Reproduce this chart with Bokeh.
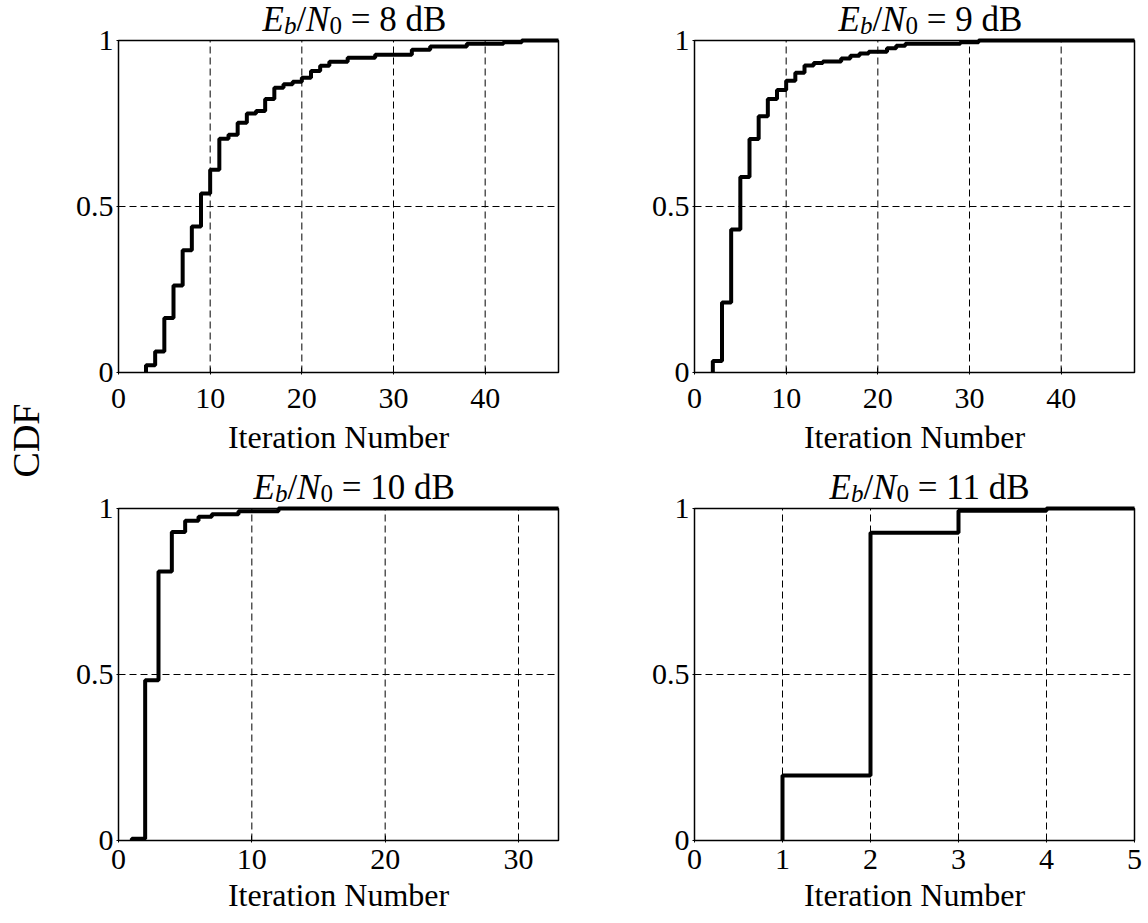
from bokeh.plotting import figure
from bokeh.models import FixedTicker, Label, BoxAnnotation, Range1d
from bokeh.layouts import row, column
from bokeh.embed import file_html
from bokeh.resources import INLINE
import math

FONT = "Liberation Serif"

# ---------------- data ----------------
iter_8db = [3, 4, 5, 6, 7, 8, 9, 10, 11, 12, 13, 14, 15, 16, 17, 18, 19, 20, 21, 22, 23,
            25, 28, 32, 34, 38, 42, 44, 48]
cdf_8db = [0.022, 0.063, 0.164, 0.262, 0.368, 0.440, 0.539, 0.611, 0.704, 0.716, 0.752,
           0.780, 0.788, 0.824, 0.858, 0.868, 0.876, 0.888, 0.908, 0.924, 0.936,
           0.948, 0.957, 0.972, 0.982, 0.990, 0.995, 1.0, 1.0]

iter_9db = [2, 3, 4, 5, 6, 7, 8, 9, 10, 11, 12, 13, 14, 16, 17, 18, 19, 21, 22, 23, 29, 31, 48]
cdf_9db = [0.035, 0.211, 0.431, 0.589, 0.703, 0.772, 0.824, 0.851, 0.879, 0.903, 0.925,
           0.932, 0.937, 0.946, 0.954, 0.961, 0.966, 0.977, 0.984, 0.990, 0.995, 1.0, 1.0]

iter_10db = [1, 2, 3, 4, 5, 6, 7, 9, 12, 33]
cdf_10db = [0.005, 0.483, 0.810, 0.929, 0.963, 0.975, 0.983, 0.992, 1.0, 1.0]

iter_11db = [1, 2, 3, 4, 5]
cdf_11db = [0.196, 0.927, 0.993, 1.0, 1.0]

snr_db = ["8", "9", "10", "11"]
xmax_list = [48, 48, 33, 5]
xticks_list = [[0, 10, 20, 30, 40], [0, 10, 20, 30, 40], [0, 10, 20, 30], [0, 1, 2, 3, 4, 5]]
yticks = [0, 0.5, 1]
ytick_labels = {0: "0", 0.5: "0.5", 1: "1"}
xlabel = "Iteration Number"
ylabel = "CDF"

# title pieces: text, x offset (px), baseline shift (px), size, style
PIECES = [("E", 0.0, 0, "35px", "italic"),
          ("b", 21.4, -6, "25px", "italic"),
          ("/", 33.9, 0, "35px", "normal"),
          ("N", 43.6, 0, "35px", "italic"),
          ("0", 66.9, -6, "25px", "normal"),
          ("= {} dB", 88.2, 0, "35px", "normal")]
TITLE_RISE = 21   # baseline height above the box top (px)

BOX_W = 440     # axes box width  (px)
BOX_H = 332     # axes box height (px)
PAD = 2         # frame padding around the box on left/right/bottom (px)


def make_panel(width, height, box_left, box_top, xmax, xticks, iters, cdf, snr,
               title_start, tick_so, lab_so):
    bb = height - box_top - BOX_H
    dx_pad = PAD * xmax / BOX_W
    dy_pad = PAD / BOX_H
    p = figure(width=width, height=height,
               x_range=Range1d(-dx_pad, xmax + dx_pad),
               y_range=Range1d(-dy_pad, 1 + box_top / BOX_H),
               toolbar_location=None, output_backend="svg",
               min_border_left=box_left - PAD,
               min_border_right=width - box_left - BOX_W - PAD,
               min_border_top=0, min_border_bottom=bb - PAD)
    p.background_fill_color = "white"
    p.border_fill_color = "white"
    p.outline_line_color = None
    p.xgrid.visible = False
    p.ygrid.visible = False

    # dashed grid from the tick arrays
    gx = list(xticks)
    p.segment(x0=gx, y0=[yticks[0]] * len(gx), x1=gx, y1=[yticks[-1]] * len(gx),
              line_color="black", line_width=1, line_dash="7 4")
    p.segment(x0=[0] * len(yticks), y0=yticks, x1=[xmax] * len(yticks), y1=yticks,
              line_color="black", line_width=1, line_dash="7 4")

    xs = [iters[0]] + list(iters)
    ys = [0.0] + list(cdf)
    p.step(xs, ys, mode="after", line_color="black", line_width=4)

    p.add_layout(BoxAnnotation(left=0, right=xmax, bottom=0, top=1,
                               fill_alpha=0, fill_color=None,
                               line_color="black", line_width=1.5, line_alpha=1.0))

    p.xaxis.ticker = FixedTicker(ticks=xticks)
    p.yaxis.ticker = FixedTicker(ticks=yticks)
    p.yaxis.major_label_overrides = ytick_labels
    for ax in (p.xaxis[0], p.yaxis[0]):
        ax.axis_line_color = None
        ax.major_tick_in = 7
        ax.major_tick_out = 0
        ax.major_tick_line_color = "black"
        ax.minor_tick_line_color = None
        ax.major_label_text_font = FONT
        ax.major_label_text_font_size = "30px"
        ax.major_label_text_color = "black"
    p.xaxis.major_label_standoff = tick_so
    p.yaxis.major_label_standoff = 3
    p.xaxis.axis_label = xlabel
    p.xaxis.axis_label_text_font = FONT
    p.xaxis.axis_label_text_font_size = "32px"
    p.xaxis.axis_label_text_font_style = "normal"
    p.xaxis.axis_label_text_color = "black"
    p.xaxis.axis_label_standoff = lab_so

    for txt, dx, dy, fs, style in PIECES:
        p.add_layout(Label(x=0, y=1, x_offset=title_start + dx,
                           y_offset=TITLE_RISE + dy,
                           text=txt.format(snr), text_font=FONT, text_font_size=fs,
                           text_font_style=style, text_color="black",
                           text_align="left", text_baseline="alphabetic"))
    return p


STRIP = 60
TOP_H = 466
BOT_H = 923 - TOP_H
p1 = make_panel(514, TOP_H, 58, 40, xmax_list[0], xticks_list[0],
                iter_8db, cdf_8db, snr_db[0], 144, 14, 8)
p2 = make_panel(574, TOP_H, 120, 40, xmax_list[1], xticks_list[1],
                iter_9db, cdf_9db, snr_db[1], 144, 14, 8)
p3 = make_panel(514, BOT_H, 58, 508 - TOP_H, xmax_list[2], xticks_list[2],
                iter_10db, cdf_10db, snr_db[2], 135, 7, 5)
p4 = make_panel(574, BOT_H, 120, 508 - TOP_H, xmax_list[3], xticks_list[3],
                iter_11db, cdf_11db, snr_db[3], 135, 7, 5)

strip = figure(width=STRIP, height=923, x_range=(0, STRIP), y_range=(0, 923),
               toolbar_location=None, output_backend="svg",
               min_border=0)
strip.axis.visible = False
strip.grid.visible = False
strip.outline_line_color = None
strip.background_fill_color = "white"
strip.border_fill_color = "white"
strip.add_layout(Label(x=25, y=923 - 440, text=ylabel, angle=math.pi / 2,
                       text_font=FONT, text_font_size="38px", text_color="black",
                       text_align="center", text_baseline="middle"))

layout = row(strip, column(row(p1, p2), row(p3, p4)))

open("out.html", "w").write(file_html(layout, INLINE))
